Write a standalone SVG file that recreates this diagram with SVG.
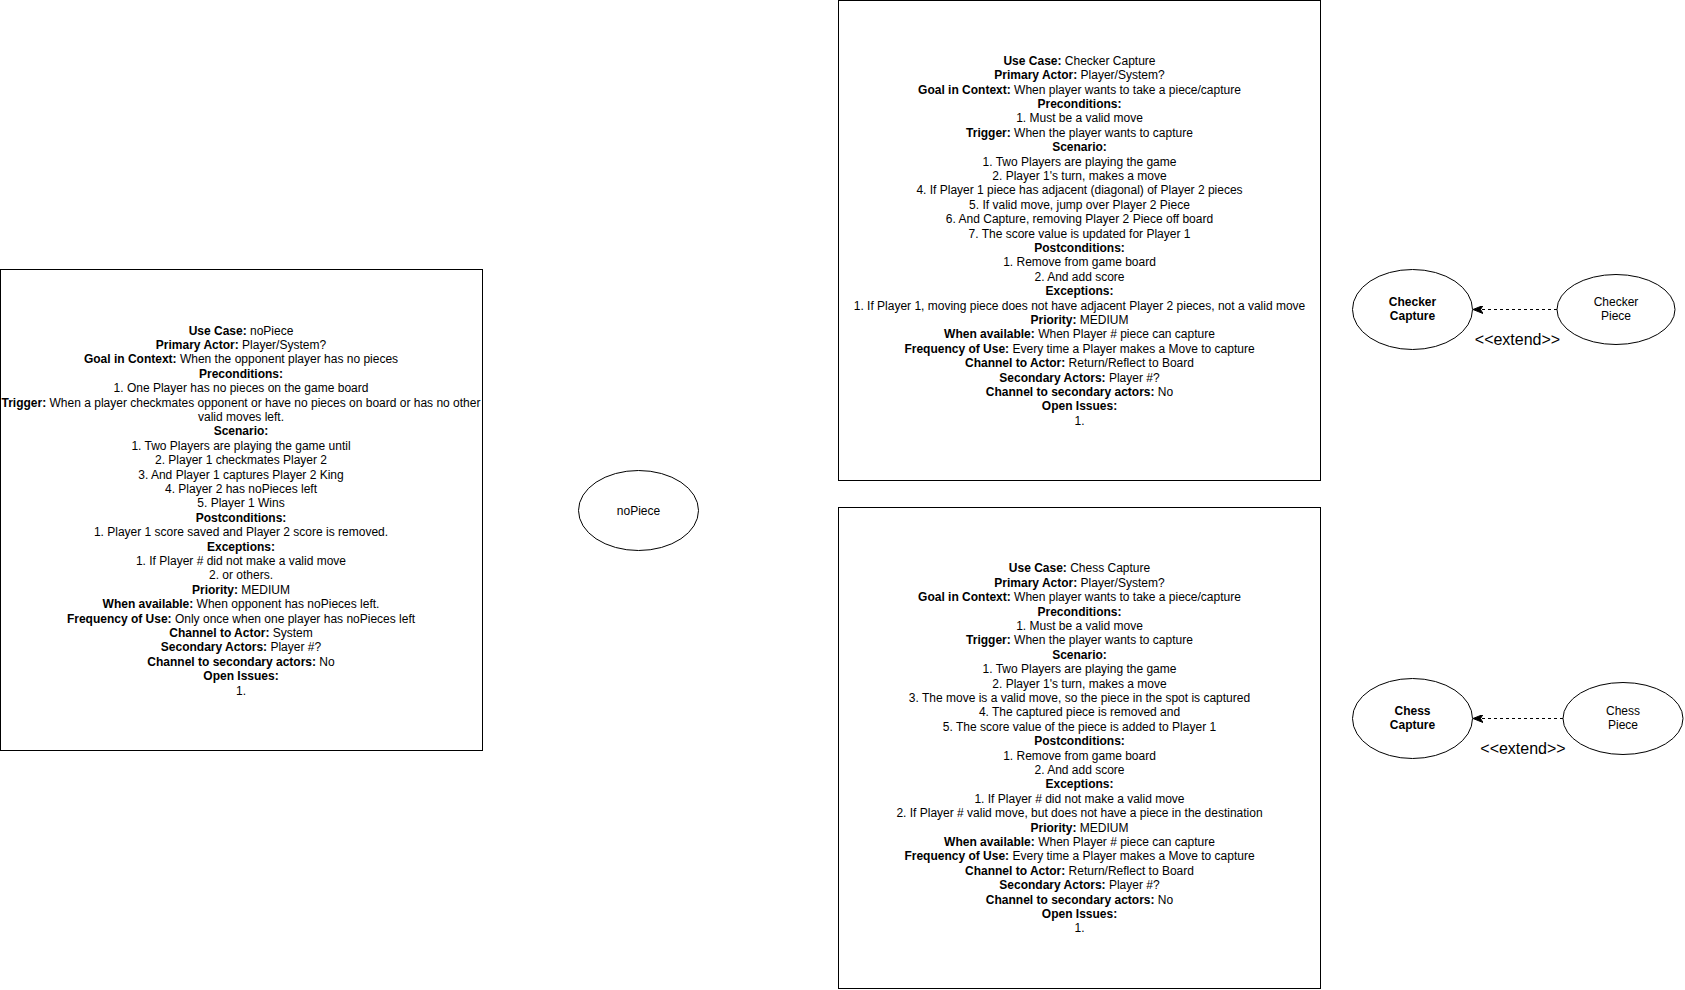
<svg xmlns="http://www.w3.org/2000/svg" width="1685" height="990" viewBox="0 0 1685 990">
<defs>
<style>
text{font-family:"Liberation Sans",Arial,Helvetica,sans-serif;font-size:12px;fill:#000;text-anchor:middle}
.b{font-weight:bold}
.box{fill:#fff;stroke:#000;stroke-width:1}
.uc{fill:#fff;stroke:#000;stroke-width:1}
.edge{fill:none;stroke:#000;stroke-width:1;stroke-dasharray:3 3}
.lbl{font-size:16px}
</style>
<marker id="arr" viewBox="0 0 10 8" refX="10" refY="4" markerWidth="10" markerHeight="8" markerUnits="userSpaceOnUse" orient="auto">
<path d="M0,0 L10,4 L0,8 L2.5,4 Z" fill="#000" stroke="#000" stroke-width="1" stroke-dasharray="none"/>
</marker>
</defs>
<rect width="1685" height="990" fill="#fff"/>

<g id="nopiece-desc">
<rect class="box" x="0.5" y="269.5" width="482" height="481"/>
<text x="241" y="334.5"><tspan class="b">Use Case:</tspan> noPiece</text>
<text x="241" y="348.9"><tspan class="b">Primary Actor:</tspan> Player/System?</text>
<text x="241" y="363.3"><tspan class="b">Goal in Context:</tspan> When the opponent player has no pieces</text>
<text x="241" y="377.7" class="b">Preconditions:</text>
<text x="241" y="392.1">1. One Player has no pieces on the game board</text>
<text x="241" y="406.5"><tspan class="b">Trigger:</tspan> When a player checkmates opponent or have no pieces on board or has no other</text>
<text x="241" y="420.9">valid moves left.</text>
<text x="241" y="435.3" class="b">Scenario:</text>
<text x="241" y="449.7">1. Two Players are playing the game until</text>
<text x="241" y="464.1">2. Player 1 checkmates Player 2</text>
<text x="241" y="478.5">3. And Player 1 captures Player 2 King</text>
<text x="241" y="492.9">4. Player 2 has noPieces left</text>
<text x="241" y="507.3">5. Player 1 Wins</text>
<text x="241" y="521.7" class="b">Postconditions:</text>
<text x="241" y="536.1">1. Player 1 score saved and Player 2 score is removed.</text>
<text x="241" y="550.5" class="b">Exceptions:</text>
<text x="241" y="564.9">1. If Player # did not make a valid move</text>
<text x="241" y="579.3">2. or others.</text>
<text x="241" y="593.7"><tspan class="b">Priority:</tspan> MEDIUM</text>
<text x="241" y="608.1"><tspan class="b">When available:</tspan> When opponent has noPieces left.</text>
<text x="241" y="622.5"><tspan class="b">Frequency of Use:</tspan> Only once when one player has noPieces left</text>
<text x="241" y="636.9"><tspan class="b">Channel to Actor:</tspan> System</text>
<text x="241" y="651.3"><tspan class="b">Secondary Actors:</tspan> Player #?</text>
<text x="241" y="665.7"><tspan class="b">Channel to secondary actors:</tspan> No</text>
<text x="241" y="680.1" class="b">Open Issues:</text>
<text x="241" y="694.5">1.</text>
</g>

<g id="nopiece">
<ellipse class="uc" cx="638.5" cy="510.5" rx="60" ry="40"/>
<text x="638.5" y="514.5">noPiece</text>
</g>

<g id="checker-desc">
<rect class="box" x="838.5" y="0.5" width="482" height="480"/>
<text x="1079.5" y="64.8"><tspan class="b">Use Case:</tspan> Checker Capture</text>
<text x="1079.5" y="79.2"><tspan class="b">Primary Actor:</tspan> Player/System?</text>
<text x="1079.5" y="93.6"><tspan class="b">Goal in Context:</tspan> When player wants to take a piece/capture</text>
<text x="1079.5" y="108" class="b">Preconditions:</text>
<text x="1079.5" y="122.4">1. Must be a valid move</text>
<text x="1079.5" y="136.8"><tspan class="b">Trigger:</tspan> When the player wants to capture</text>
<text x="1079.5" y="151.2" class="b">Scenario:</text>
<text x="1079.5" y="165.6">1. Two Players are playing the game</text>
<text x="1079.5" y="180">2. Player 1's turn, makes a move</text>
<text x="1079.5" y="194.4">4. If Player 1 piece has adjacent (diagonal) of Player 2 pieces</text>
<text x="1079.5" y="208.8">5. If valid move, jump over Player 2 Piece</text>
<text x="1079.5" y="223.2">6. And Capture, removing Player 2 Piece off board</text>
<text x="1079.5" y="237.6">7. The score value is updated for Player 1</text>
<text x="1079.5" y="252" class="b">Postconditions:</text>
<text x="1079.5" y="266.4">1. Remove from game board</text>
<text x="1079.5" y="280.8">2. And add score</text>
<text x="1079.5" y="295.2" class="b">Exceptions:</text>
<text x="1079.5" y="309.6">1. If Player 1, moving piece does not have adjacent Player 2 pieces, not a valid move</text>
<text x="1079.5" y="324"><tspan class="b">Priority:</tspan> MEDIUM</text>
<text x="1079.5" y="338.4"><tspan class="b">When available:</tspan> When Player # piece can capture</text>
<text x="1079.5" y="352.8"><tspan class="b">Frequency of Use:</tspan> Every time a Player makes a Move to capture</text>
<text x="1079.5" y="367.2"><tspan class="b">Channel to Actor:</tspan> Return/Reflect to Board</text>
<text x="1079.5" y="381.6"><tspan class="b">Secondary Actors:</tspan> Player #?</text>
<text x="1079.5" y="396"><tspan class="b">Channel to secondary actors:</tspan> No</text>
<text x="1079.5" y="410.4" class="b">Open Issues:</text>
<text x="1079.5" y="424.8">1.</text>
</g>

<g id="chess-desc">
<rect class="box" x="838.5" y="507.5" width="482" height="481"/>
<text x="1079.5" y="572.3"><tspan class="b">Use Case:</tspan> Chess Capture</text>
<text x="1079.5" y="586.7"><tspan class="b">Primary Actor:</tspan> Player/System?</text>
<text x="1079.5" y="601.1"><tspan class="b">Goal in Context:</tspan> When player wants to take a piece/capture</text>
<text x="1079.5" y="615.5" class="b">Preconditions:</text>
<text x="1079.5" y="629.9">1. Must be a valid move</text>
<text x="1079.5" y="644.3"><tspan class="b">Trigger:</tspan> When the player wants to capture</text>
<text x="1079.5" y="658.7" class="b">Scenario:</text>
<text x="1079.5" y="673.1">1. Two Players are playing the game</text>
<text x="1079.5" y="687.5">2. Player 1's turn, makes a move</text>
<text x="1079.5" y="701.9">3. The move is a valid move, so the piece in the spot is captured</text>
<text x="1079.5" y="716.3">4. The captured piece is removed and</text>
<text x="1079.5" y="730.7">5. The score value of the piece is added to Player 1</text>
<text x="1079.5" y="745.1" class="b">Postconditions:</text>
<text x="1079.5" y="759.5">1. Remove from game board</text>
<text x="1079.5" y="773.9">2. And add score</text>
<text x="1079.5" y="788.3" class="b">Exceptions:</text>
<text x="1079.5" y="802.7">1. If Player # did not make a valid move</text>
<text x="1079.5" y="817.1">2. If Player # valid move, but does not have a piece in the destination</text>
<text x="1079.5" y="831.5"><tspan class="b">Priority:</tspan> MEDIUM</text>
<text x="1079.5" y="845.9"><tspan class="b">When available:</tspan> When Player # piece can capture</text>
<text x="1079.5" y="860.3"><tspan class="b">Frequency of Use:</tspan> Every time a Player makes a Move to capture</text>
<text x="1079.5" y="874.7"><tspan class="b">Channel to Actor:</tspan> Return/Reflect to Board</text>
<text x="1079.5" y="889.1"><tspan class="b">Secondary Actors:</tspan> Player #?</text>
<text x="1079.5" y="903.5"><tspan class="b">Channel to secondary actors:</tspan> No</text>
<text x="1079.5" y="917.9" class="b">Open Issues:</text>
<text x="1079.5" y="932.3">1.</text>
</g>

<g id="checker-capture">
<ellipse class="uc" cx="1412.5" cy="309.5" rx="60" ry="40"/>
<text x="1412.5" y="305.5" class="b">Checker</text>
<text x="1412.5" y="320" class="b">Capture</text>
</g>

<g id="checker-piece">
<ellipse class="uc" cx="1616" cy="309.5" rx="59" ry="35"/>
<text x="1616" y="305.5">Checker</text>
<text x="1616" y="320">Piece</text>
</g>

<g id="chess-capture">
<ellipse class="uc" cx="1412.5" cy="718.5" rx="60" ry="40"/>
<text x="1412.5" y="714.5" class="b">Chess</text>
<text x="1412.5" y="729" class="b">Capture</text>
</g>

<g id="chess-piece">
<ellipse class="uc" cx="1623" cy="718.5" rx="60" ry="36"/>
<text x="1623" y="714.5">Chess</text>
<text x="1623" y="729">Piece</text>
</g>

<g id="connectors">
<path class="edge" d="M1557,309.5 L1473,309.5" marker-end="url(#arr)"/>
<text class="lbl" x="1517.5" y="345">&lt;&lt;extend&gt;&gt;</text>
<path class="edge" d="M1563,718.5 L1473,718.5" marker-end="url(#arr)"/>
<text class="lbl" x="1523" y="754">&lt;&lt;extend&gt;&gt;</text>
</g>
</svg>
